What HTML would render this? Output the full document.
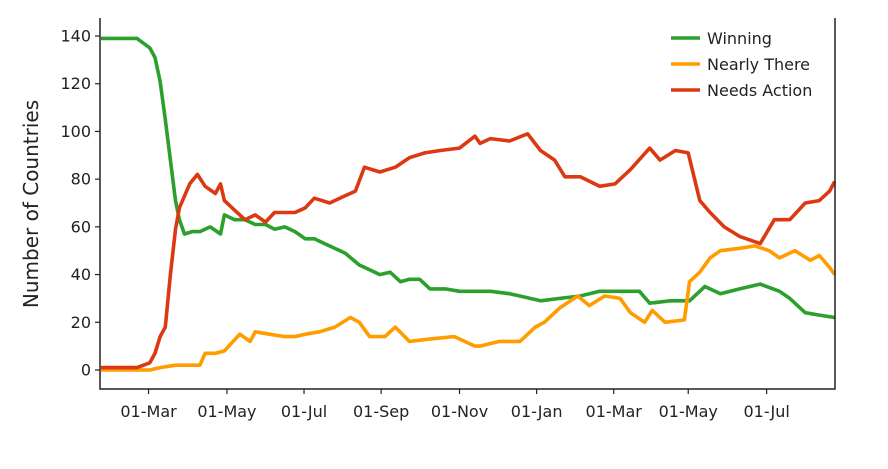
<!DOCTYPE html>
<html><head><meta charset="utf-8"><style>
html,body{margin:0;padding:0;background:#fff}
svg{display:block;font-family:"DejaVu Sans","Liberation Sans",sans-serif}
</style></head><body>
<svg id="chart" width="888" height="469" viewBox="0 0 888 469" xmlns="http://www.w3.org/2000/svg">
<g id="grid"></g>
<g id="series"></g>
<g id="axes"></g>
<g id="legend"></g>
<text x="0" y="0" transform="translate(38,204) rotate(-90)" text-anchor="middle" font-size="20" fill="#222">Number of Countries</text>
</svg>
<script>
// day offsets (plot time units) and values
const winDays = [0,28,38,42,46,50,54,58,61,65,71,77,85,93,96,104,112,120,128,135,143,151,159,166,174,190,201,209,217,225,233,240,248,256,268,279,295,303,318,326,342,357,373,388,404,419,427,443,458,470,482,497,513,528,536,548,559,571];
const winVals = [139,139,135,131,121,105,88,71,63,57,58,58,60,57,65,63,63,61,61,59,60,58,55,55,53,49,44,42,40,41,37,38,38,34,34,33,33,33,32,31,29,30,31,33,33,33,28,29,29,35,32,34,36,33,30,24,23,22];
const nearDays = [0,38,46,58,69,77,81,89,96,108,116,120,131,143,151,159,170,182,194,201,209,221,229,240,256,275,291,295,310,326,338,345,357,371,380,392,404,412,423,429,439,454,458,466,474,482,497,509,520,528,540,552,559,567,571];
const nearVals = [0,0,1,2,2,2,7,7,8,15,12,16,15,14,14,15,16,18,22,20,14,14,18,12,13,14,10,10,12,12,18,20,26,31,27,31,30,24,20,25,20,21,37,41,47,50,51,52,50,47,50,46,48,43,40];
const needDays = [0,28,38,42,46,50,54,58,61,69,75,81,89,93,96,104,112,120,128,135,143,151,159,166,178,190,198,205,217,229,240,252,264,279,291,295,303,318,332,342,353,361,373,388,400,412,427,435,447,457,466,474,485,497,513,524,536,548,559,567,571];
const needVals = [1,1,3,7,14,18,40,59,68,78,82,77,74,78,71,67,63,65,62,66,66,66,68,72,70,73,75,85,83,85,89,91,92,93,98,95,97,96,99,92,88,81,81,77,78,84,93,88,92,91,71,66,60,56,53,63,63,70,71,75,79];
const seriesNames = ["Winning","Nearly There","Needs Action"];
const yTicks = [0,20,40,60,80,100,120,140];
const xTickDays = [37,98,158,218,279,339,399,457,518];
const xTickLabels = ["01-Mar","01-May","01-Jul","01-Sep","01-Nov","01-Jan","01-Mar","01-May","01-Jul"];

const L=100,R=835,T=18,B=389;
const xs = d => 101 + d*1.285;
const ys = v => 370 - v*(334/140);
const NS="http://www.w3.org/2000/svg";
function mk(tag, attrs, parent){const e=document.createElementNS(NS,tag);for(const k in attrs)e.setAttribute(k,attrs[k]);parent.appendChild(e);return e;}
const axes=document.getElementById('axes'), ser=document.getElementById('series'), leg=document.getElementById('legend');
const colors=["#2ca02c","#ff9c00","#dc3912"];
const data=[[winDays,winVals],[nearDays,nearVals],[needDays,needVals]];
const names=["winning-line","nearly-there-line","needs-action-line"];
[0,1,2].forEach(i=>{
  const [ds,vs]=data[i];
  const d=ds.map((dd,j)=>(j?'L':'M')+xs(dd).toFixed(1)+','+ys(vs[j]).toFixed(1)).join(' ');
  const p=mk('path',{d:d,fill:'none',stroke:colors[i],'stroke-width':3.6,'stroke-linejoin':'round'},ser);
  
  
});
// spines
const sp=mk('path',{d:`M${L},${T} L${L},${B} L${R},${B} L${R},${T}`,fill:'none',stroke:'#222','stroke-width':1.5},axes);


yTicks.forEach(v=>{
  const y=ys(v);
  const t=mk('line',{x1:95,x2:L,y1:y,y2:y,stroke:'#222','stroke-width':1.2},axes);
  
  
  const tx=mk('text',{x:91,y:y+5.5,'text-anchor':'end','font-size':16,fill:'#222'},axes);
  tx.textContent=v;
  
  
});
xTickDays.forEach((dd,i)=>{
  const x=xs(dd);
  const t=mk('line',{x1:x,x2:x,y1:B,y2:B+5,stroke:'#222','stroke-width':1.2},axes);
  
  
  const tx=mk('text',{x:x,y:417,'text-anchor':'middle','font-size':16,fill:'#222'},axes);
  tx.textContent=xTickLabels[i];
  
  
});
seriesNames.forEach((n,i)=>{
  const y=38+i*26;
  const g=mk('g',{},leg);
  
  
  mk('line',{x1:671,x2:700,y1:y,y2:y,stroke:colors[i],'stroke-width':3.6},g);
  const tx=mk('text',{x:707,y:y+6,'font-size':16,fill:'#222'},g);
  tx.textContent=n;
});
</script>
</body></html>
